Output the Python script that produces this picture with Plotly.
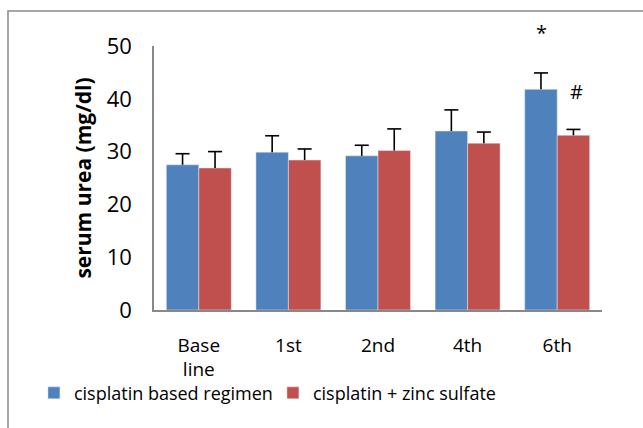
import plotly.graph_objects as go

categories = ["Base<br>line", "1st", "2nd", "4th", "6th"]
series_names = ["cisplatin based regimen", "cisplatin + zinc sulfate"]
cisplatin_vals = [27.5, 29.9, 29.2, 33.9, 41.8]
cisplatin_err = [2.1, 3.1, 2.0, 4.0, 3.1]
zinc_vals = [26.9, 28.4, 30.2, 31.6, 33.1]
zinc_err = [3.1, 2.1, 4.1, 2.1, 1.1]
colors = ["#4F81BD", "#C0504D"]
y_ticks = [0, 10, 20, 30, 40, 50]

FONT = "Open Sans"

fig = go.Figure()
for i, (name, vals, errs, col) in enumerate([
    (series_names[0], cisplatin_vals, cisplatin_err, colors[0]),
    (series_names[1], zinc_vals, zinc_err, colors[1]),
]):
    fig.add_trace(go.Bar(
        name=name, x=categories, y=vals, marker_color=col,
        offsetgroup=str(i), alignmentgroup="g",
    ))
    # one-sided error bar: stem downward from the cap marker
    tops = [v + e for v, e in zip(vals, errs)]
    fig.add_trace(go.Scatter(
        x=categories, y=tops, mode="markers", showlegend=False, hoverinfo="skip",
        offsetgroup=str(i), alignmentgroup="g",
        marker=dict(symbol="line-ew", size=10, color="black",
                    line=dict(color="black", width=1.6)),
        error_y=dict(type="data", array=[0] * len(errs), arrayminus=errs,
                     symmetric=False, color="black", thickness=1.6, width=0),
        cliponaxis=False,
    ))

fig.update_layout(
    width=643, height=428,
    margin=dict(l=154, r=41, t=46, b=118),
    paper_bgcolor="white", plot_bgcolor="white",
    barmode="group", bargap=0.275, bargroupgap=0,
    scattermode="group", scattergap=0.275,
    font=dict(family=FONT, color="black"),
    showlegend=True,
    legend=dict(orientation="h", x=-0.268, xanchor="left", y=-0.315, yanchor="middle",
                font=dict(size=18, family=FONT), itemwidth=30, bgcolor="rgba(0,0,0,0)",
                entrywidth=194, entrywidthmode="pixels"),
    xaxis=dict(showline=True, linecolor="#888888", linewidth=1.5, ticks="",
               tickfont=dict(size=19), ticklabelstandoff=17, showgrid=False),
    yaxis=dict(range=[0, 50], tickvals=y_ticks, showline=True, linecolor="#888888",
               linewidth=1.5, ticks="", showgrid=False, zeroline=False,
               tickfont=dict(size=22), ticklabelstandoff=16,
               title=dict(text="<b>serum urea (mg/dl)</b>", font=dict(size=21), standoff=9)),
)

fig.add_annotation(x=4, xref="x", xshift=-16, y=52.5 / 50, yref="paper", yanchor="middle",
                   text="*", showarrow=False, font=dict(size=20))
fig.add_annotation(x=4, xref="x", xshift=19, y=41.3 / 50, yref="paper", yanchor="middle",
                   text="#", showarrow=False, font=dict(size=20))

fig.add_shape(type="rect", xref="paper", yref="paper",
              x0=(8 - 154) / 448, x1=(660 - 154) / 448,
              y0=(310 - 450) / 264, y1=(310 - 11) / 264,
              line=dict(color="#8a8a8a", width=1.5), fillcolor="rgba(0,0,0,0)", layer="below")

fig.write_html("out.html")
